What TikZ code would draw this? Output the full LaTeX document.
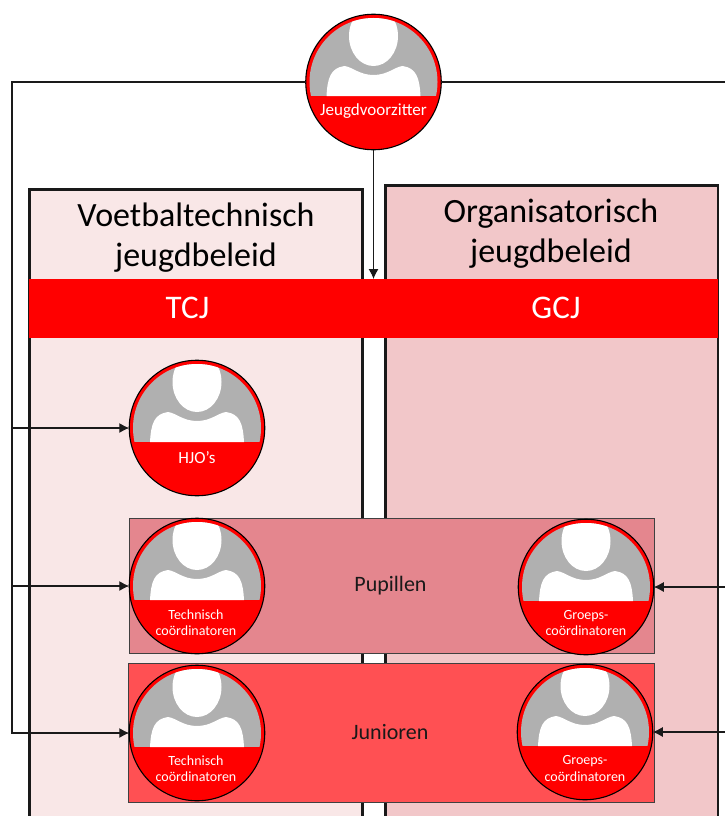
\documentclass[tikz,border=0pt]{standalone}
\usepackage{fontspec}
\setmainfont{Carlito}
\definecolor{leftbox}{HTML}{F9E7E7}
\definecolor{rightbox}{HTML}{F2C7C9}
\definecolor{pupil}{HTML}{E4868E}
\definecolor{junior}{HTML}{FF5053}
\definecolor{avgray}{HTML}{B0B0B0}
\definecolor{line}{HTML}{1A1A1A}
\tikzset{
  panel/.style={draw=black!90,line width=2.1pt,anchor=north west,inner sep=0pt,outer sep=0pt},
  band/.style={fill=red,anchor=north west,inner sep=0pt,outer sep=0pt},
  bandlabel/.style={text=white,font=\fontsize{33}{33}\selectfont},
  agegroup/.style={draw=black!75,line width=0.9pt,anchor=north west,inner sep=0pt,outer sep=0pt},
  heading/.style={align=center,font=\fontsize{34}{40}\selectfont,text=black},
  grouplabel/.style={font=\fontsize{22}{22}\selectfont,text=black!90},
  conn/.style={draw=line,line width=1.1pt},
  arr/.style={conn,-{Latex[length=10pt,width=10pt]}},
  avatar/.style={circle,draw=black,line width=1.1pt,fill=red,minimum size=135.5pt,inner sep=0pt,outer sep=0pt,
    path picture={
      \begin{scope}[shift={(path picture bounding box.center)}]
        \clip (0,0) circle[radius=64pt];
        \fill[avgray] (-70,-70) rectangle (70,14);
        \fill[white] (0,-46) ellipse[x radius=24.5pt,y radius=30pt];
        \fill[white] (-47,14) .. controls (-46,-4) and (-43,-14) .. (-29,-16)
          .. controls (-21,-15) and (-14,-7) .. (0,-7)
          .. controls (14,-7) and (21,-15) .. (29,-16)
          .. controls (43,-14) and (46,-4) .. (47,14) -- cycle;
      \end{scope}
    }},
  avtext/.style={align=center,text=white,inner sep=0pt},
  smalltext/.style={avtext,font=\fontsize{14}{16.3}\selectfont},
}
\usetikzlibrary{arrows.meta}
\begin{document}
\begin{tikzpicture}[x=1pt,y=-1pt]
\useasboundingbox (0,0) rectangle (725,816);
\clip (0,0) rectangle (725,816);
\fill[white] (0,0) rectangle (725,816);
% panels
\node[panel,fill=leftbox,minimum width=333pt,minimum height=660pt] (leftpanel) at (29.5,189.5) {};
\node[panel,fill=rightbox,minimum width=332.5pt,minimum height=660pt] (rightpanel) at (385.5,185.5) {};
\node[heading] (lefthead) at (196,237.5) {Voetbaltechnisch\\jeugdbeleid};
\node[heading] (righthead) at (551,234) {Organisatorisch\\jeugdbeleid};
% band
\node[band,minimum width=689pt,minimum height=59pt] (bandbg) at (29,279) {};
\node[bandlabel] (tcj) at (187.5,308) {TCJ};
\node[bandlabel] (gcj) at (556,308) {GCJ};
% age groups
\node[agegroup,fill=pupil,minimum width=525pt,minimum height=135.5pt] (pupillen) at (129,518) {};
\node[agegroup,fill=junior,minimum width=526pt,minimum height=139pt] (junioren) at (128,663.5) {};
\node[grouplabel] (pupl) at (390.5,585.5) {Pupillen};
\node[grouplabel] (junl) at (390,732.5) {Junioren};
% avatars
\node[avatar] (jv) at (373.5,82) {};
\node[avatar] (hjo) at (197,428) {};
\node[avatar] (tp) at (197,586) {};
\node[avatar] (tj) at (197,733) {};
\node[avatar] (gp) at (586,587) {};
\node[avatar] (gj) at (585,732) {};
\node[avtext,font=\fontsize{17}{18}\selectfont] (jvt) at (373.5,111.5) {Jeugdvoorzitter};
\node[avtext,font=\fontsize{17}{18}\selectfont] (hjot) at (197,458) {HJO’s};
\node[smalltext] (tpt) at (196,622.5) {Technisch\\coördinatoren};
\node[smalltext] (tjt) at (196,769) {Technisch\\coördinatoren};
\node[smalltext] (gpt) at (586,623) {Groeps-\\coördinatoren};
\node[smalltext] (gjt) at (585,768.5) {Groeps-\\coördinatoren};
% connectors
\coordinate (leftrail) at (12,82);
\coordinate (offright) at (730,82);
\coordinate (rp) at (730,587);
\coordinate (rj) at (730,732);
\coordinate (bandtop) at (373.5,279);
\draw[conn] (jv.east) -- (offright);
\draw[arr] (jv.west) -- (leftrail) |- (tj.west);
\draw[arr] (leftrail |- hjo.west) -- (hjo.west);
\draw[arr] (leftrail |- tp.west) -- (tp.west);
\draw[arr] (rp) -- (gp.east);
\draw[arr] (rj) -- (gj.east);
\draw[arr] (jv.south) -- (bandtop);
\end{tikzpicture}
\end{document}
